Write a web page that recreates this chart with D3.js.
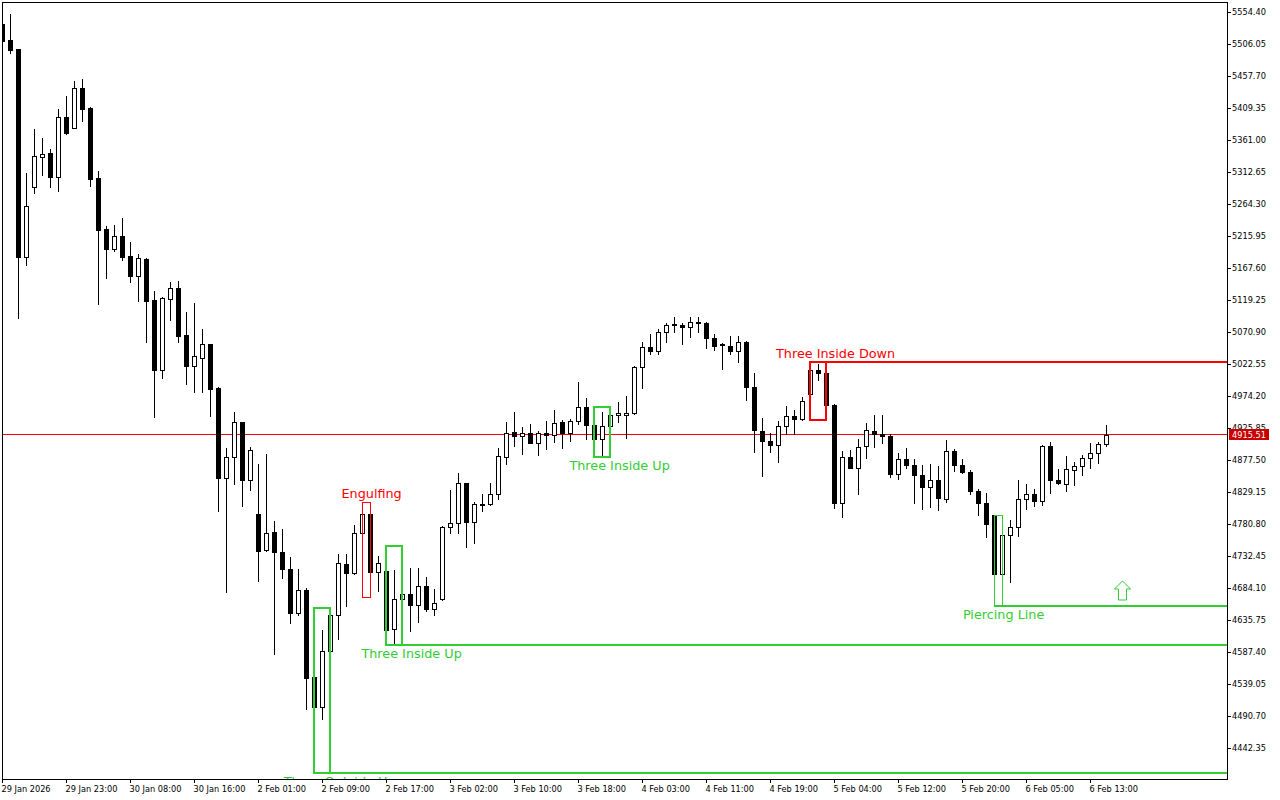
<!DOCTYPE html>
<html>
<head>
<meta charset="utf-8">
<script src="https://cdn.jsdelivr.net/npm/d3@7"></script>
<style>
	body { margin: 0; background: #fff; }
	svg { display: block; }
	text { font-family: "DejaVu Sans", sans-serif; }
</style>
</head>
<body>
<script>
// hourly candles, index 0 = first bar on the left
var opens = [
	5536.3, 5512.1, 5498.5, 5184.2, 5290.0, 5335.3, 5341.4, 5305.1, 5395.8, 5379.1,
	5439.6, 5409.4, 5303.6, 5226.5, 5196.3, 5216.0, 5185.7, 5155.5, 5181.2, 5119.3,
	5013.5, 5120.8, 5137.4, 5066.4, 5019.5, 5031.6, 5052.8, 4986.3, 4850.3, 4882.0,
	4934.9, 4847.3, 4795.9, 4741.5, 4768.7, 4738.5, 4712.8, 4646.4, 4681.1, 4549.7,
	4504.3, 4588.9, 4643.3, 4720.4, 4706.8, 4767.2, 4795.9, 4708.3, 4709.8, 4622.2,
	4667.5, 4675.1, 4658.4, 4687.1, 4652.4, 4667.5, 4776.3, 4782.3, 4842.8, 4783.8,
	4809.5, 4811.0, 4826.2, 4882.0, 4919.8, 4913.8, 4918.3, 4903.2, 4918.3, 4915.3,
	4934.9, 4918.3, 4936.4, 4957.6, 4930.4, 4909.3, 4928.9, 4945.5, 4945.5, 4948.5,
	5018.0, 5048.2, 5042.2, 5070.9, 5081.5, 5081.5, 5078.5, 5086.0, 5084.5, 5061.9,
	5052.8, 5049.8, 5042.2, 5055.8, 4987.8, 4921.3, 4906.2, 4900.2, 4928.9, 4944.0,
	4939.5, 4977.2, 5013.5, 5009.0, 4960.6, 4812.5, 4882.0, 4865.4, 4898.7, 4921.3,
	4916.8, 4913.8, 4856.4, 4879.0, 4870.0, 4854.9, 4836.7, 4847.3, 4818.6, 4891.1,
	4870.0, 4859.4, 4830.7, 4812.5, 4794.4, 4705.3, 4764.2, 4776.3, 4818.6, 4826.2,
	4815.6, 4898.7, 4847.3, 4841.3, 4862.4, 4868.5, 4880.5, 4888.1, 4901.7
];
var highs = [
	5542.3, 5551.4, 5498.5, 5311.1, 5377.6, 5364.0, 5347.4, 5407.8, 5427.5, 5450.2,
	5453.2, 5410.9, 5314.2, 5231.1, 5232.6, 5243.2, 5206.9, 5188.8, 5182.7, 5132.9,
	5123.8, 5146.5, 5148.0, 5101.1, 5114.7, 5075.4, 5052.8, 4987.8, 4895.7, 4950.0,
	4934.9, 4897.2, 4871.5, 4886.6, 4785.4, 4773.3, 4731.0, 4712.8, 4684.1, 4573.8,
	4620.7, 4653.9, 4735.5, 4735.5, 4779.3, 4812.5, 4814.1, 4732.5, 4747.6, 4711.3,
	4715.9, 4714.3, 4714.3, 4700.7, 4682.6, 4777.8, 4832.2, 4857.9, 4842.8, 4814.1,
	4826.2, 4842.8, 4895.7, 4934.9, 4950.0, 4927.4, 4931.9, 4921.3, 4936.4, 4953.1,
	4937.9, 4939.5, 4995.4, 4971.2, 4956.1, 4950.0, 4957.6, 4965.2, 4974.2, 5019.5,
	5055.8, 5067.9, 5075.4, 5084.5, 5093.6, 5084.5, 5093.6, 5093.6, 5086.0, 5067.9,
	5054.3, 5064.9, 5064.9, 5057.3, 5009.0, 4941.0, 4918.3, 4936.4, 4959.1, 4953.1,
	4972.7, 5025.6, 5022.6, 5025.6, 4962.1, 4891.1, 4892.6, 4909.3, 4933.4, 4945.5,
	4945.5, 4916.8, 4888.1, 4895.7, 4879.0, 4870.0, 4871.5, 4868.5, 4907.7, 4894.1,
	4879.0, 4862.4, 4833.7, 4827.7, 4794.4, 4786.9, 4786.9, 4847.3, 4841.3, 4833.7,
	4900.2, 4904.7, 4863.9, 4883.6, 4874.5, 4885.1, 4903.2, 4904.7, 4930.4
];
var lows = [
	5509.1, 5492.4, 5092.1, 5172.1, 5280.9, 5308.1, 5290.0, 5284.0, 5370.1, 5379.1,
	5389.7, 5291.5, 5113.2, 5152.5, 5193.3, 5179.7, 5146.5, 5117.8, 5055.8, 4942.5,
	5001.4, 5089.0, 5055.8, 4992.3, 4980.3, 4980.3, 4944.0, 4800.5, 4678.1, 4841.3,
	4808.0, 4832.2, 4694.7, 4740.0, 4584.4, 4699.2, 4631.2, 4643.3, 4501.3, 4404.6,
	4486.2, 4560.2, 4607.1, 4656.9, 4705.3, 4749.1, 4670.5, 4679.6, 4620.7, 4598.0,
	4656.9, 4619.2, 4632.8, 4649.4, 4643.3, 4666.0, 4767.2, 4767.2, 4746.1, 4752.1,
	4800.5, 4809.5, 4818.6, 4871.5, 4898.7, 4886.6, 4903.2, 4885.1, 4894.1, 4904.7,
	4895.7, 4906.2, 4931.9, 4909.3, 4883.6, 4882.0, 4903.2, 4934.9, 4910.8, 4947.0,
	4986.3, 5037.7, 5037.7, 5055.8, 5070.9, 5052.8, 5063.4, 5070.9, 5046.7, 5043.7,
	5015.0, 5037.7, 5025.6, 4968.2, 4889.6, 4853.3, 4889.6, 4874.5, 4916.8, 4916.8,
	4937.9, 4963.6, 4998.4, 4937.9, 4805.0, 4791.4, 4865.4, 4826.2, 4880.5, 4897.2,
	4903.2, 4851.8, 4848.8, 4865.4, 4812.5, 4803.5, 4806.5, 4802.0, 4814.1, 4860.9,
	4857.9, 4826.2, 4794.4, 4761.2, 4696.2, 4656.9, 4693.2, 4762.7, 4803.5, 4808.0,
	4809.5, 4827.7, 4841.3, 4830.7, 4839.7, 4854.9, 4865.4, 4873.0, 4898.7
];
var closes = [
	5510.6, 5497.0, 5184.2, 5261.3, 5336.8, 5339.9, 5305.1, 5395.8, 5371.6, 5439.6,
	5407.8, 5302.1, 5225.0, 5196.3, 5216.0, 5184.2, 5155.5, 5182.7, 5117.8, 5013.5,
	5122.3, 5137.4, 5064.9, 5019.5, 5034.7, 5052.8, 4984.8, 4850.3, 4882.0, 4934.9,
	4847.3, 4892.6, 4740.0, 4767.2, 4738.5, 4712.8, 4646.4, 4681.1, 4548.1, 4504.3,
	4588.9, 4643.3, 4721.9, 4706.8, 4767.2, 4795.9, 4708.3, 4721.9, 4620.7, 4667.5,
	4675.1, 4658.4, 4687.1, 4652.4, 4661.5, 4776.3, 4782.3, 4842.8, 4783.8, 4811.0,
	4811.0, 4826.2, 4883.6, 4918.3, 4913.8, 4918.3, 4903.2, 4918.3, 4915.3, 4933.4,
	4918.3, 4936.4, 4957.6, 4930.4, 4909.3, 4928.9, 4945.5, 4948.5, 4948.5, 5018.0,
	5048.2, 5042.2, 5070.9, 5081.5, 5083.0, 5078.5, 5086.0, 5084.5, 5061.9, 5049.8,
	5051.3, 5042.2, 5055.8, 4987.8, 4922.8, 4906.2, 4900.2, 4928.9, 4944.0, 4939.5,
	4966.7, 5013.5, 5009.0, 4960.6, 4812.5, 4882.0, 4865.4, 4897.2, 4922.8, 4916.8,
	4913.8, 4856.4, 4879.0, 4870.0, 4854.9, 4836.7, 4847.3, 4820.1, 4891.1, 4870.0,
	4859.4, 4830.7, 4812.5, 4780.8, 4705.3, 4764.2, 4776.3, 4818.6, 4826.2, 4815.6,
	4898.7, 4847.3, 4842.8, 4863.9, 4868.5, 4880.5, 4888.1, 4901.7, 4915.51
];

var bid = 4915.51;

var priceTicks = [5554.40, 5506.05, 5457.70, 5409.35, 5361.00, 5312.65, 5264.30, 5215.95,
	5167.60, 5119.25, 5070.90, 5022.55, 4974.20, 4925.85, 4877.50, 4829.15, 4780.80,
	4732.45, 4684.10, 4635.75, 4587.40, 4539.05, 4490.70, 4442.35];

var timeTickIndex = [0, 8, 16, 24, 32, 40, 48, 56, 64, 72, 80, 88, 96, 104, 112, 120, 128, 136];
var timeTickLabels = ['29 Jan 2026', '29 Jan 23:00', '30 Jan 08:00', '30 Jan 16:00', '2 Feb 01:00',
	'2 Feb 09:00', '2 Feb 17:00', '3 Feb 02:00', '3 Feb 10:00', '3 Feb 18:00', '4 Feb 03:00',
	'4 Feb 11:00', '4 Feb 19:00', '5 Feb 04:00', '5 Feb 12:00', '5 Feb 20:00', '6 Feb 05:00', '6 Feb 13:00'];

// candlestick patterns found on the chart
var patternNames  = ['Three Outside Up', 'Engulfing', 'Three Inside Up', 'Three Inside Up', 'Three Inside Down', 'Piercing Line'];
var patternStart  = [39, 45, 48, 74, 101, 124];
var patternEnd    = [41, 46, 50, 76, 103, 125];
var patternBull   = [true, false, true, true, false, true];
var patternExtend = [true, false, true, false, true, true];
var signalIndex = 140; // buy arrow bar

var green = '#32cd32';
var red = '#ff0000';

var plot = { left: 2, top: 2, right: 1227, bottom: 779 };

var svg = d3.select('body').append('svg')
	.attr('width', 1280)
	.attr('height', 800);

var x = d3.scaleLinear().domain([0, 1]).range([2, 10]); // 8px per bar
var y = d3.scaleLinear().domain([4442.35, 5554.40]).range([748, 12]);
var py = function(v) { return Math.round(y(v)); };

svg.append('defs').append('clipPath').attr('id', 'clip')
	.append('rect')
	.attr('x', plot.left).attr('y', plot.top)
	.attr('width', plot.right - plot.left).attr('height', plot.bottom - plot.top);

var g = svg.append('g').attr('clip-path', 'url(#clip)');

// bid line
g.append('line')
	.attr('x1', plot.left).attr('x2', plot.right)
	.attr('y1', py(bid) - 0.5).attr('y2', py(bid) - 0.5)
	.attr('stroke', '#ff0000');

// candles
var idx = d3.range(opens.length);
var candle = g.append('g').selectAll('g').data(idx).enter().append('g');

candle.append('line')
	.attr('x1', function(i) { return x(i) + 0.5; })
	.attr('x2', function(i) { return x(i) + 0.5; })
	.attr('y1', function(i) { return py(highs[i]); })
	.attr('y2', function(i) { return py(lows[i]) + 1; })
	.attr('stroke', '#000');

candle.append('rect')
	.attr('x', function(i) { return closes[i] >= opens[i] ? x(i) - 1.5 : x(i) - 2; })
	.attr('width', function(i) { return closes[i] >= opens[i] ? 4 : 5; })
	.attr('y', function(i) {
		return closes[i] >= opens[i] ? py(closes[i]) + 0.5 : py(opens[i]);
	})
	.attr('height', function(i) {
		if (closes[i] >= opens[i]) return py(opens[i]) - py(closes[i]);
		return Math.max(1, py(closes[i]) - py(opens[i]) + 1);
	})
	.attr('fill', function(i) { return closes[i] >= opens[i] ? '#fff' : '#000'; })
	.attr('stroke', function(i) { return closes[i] >= opens[i] ? '#000' : 'none'; });

// pattern boxes, lines and labels
var pat = g.append('g');
patternNames.forEach(function(name, k) {
	var s = patternStart[k], e = patternEnd[k];
	var hi = d3.max(highs.slice(s, e + 1));
	var lo = d3.min(lows.slice(s, e + 1));
	var col = patternBull[k] ? green : red;
	var w = (e - s === 1) ? 1 : 2;
	var off = w === 1 ? 0.5 : 0;
	var x0 = x(s) + 0.5, x1 = x(e) + 0.5;
	var top = py(hi), bot = py(lo);

	pat.append('rect')
		.attr('x', Math.floor(x0) + off).attr('y', top + off)
		.attr('width', Math.floor(x1) - Math.floor(x0)).attr('height', bot - top)
		.attr('fill', 'none').attr('stroke', col).attr('stroke-width', w);

	if (patternExtend[k]) {
		var ly = patternBull[k] ? bot : top;
		pat.append('line')
			.attr('x1', Math.floor(x0)).attr('x2', plot.right)
			.attr('y1', ly).attr('y2', ly)
			.attr('stroke', col).attr('stroke-width', 2);
	}

	pat.append('text')
		.attr('x', x(e + (e - s === 1 ? 0.2 : 1.2)))
		.attr('y', patternBull[k] ? bot + 12.5 : top - 4)
		.attr('text-anchor', 'middle')
		.attr('font-size', '12.8px')
		.attr('fill', col)
		.text(name);
});

// buy signal arrow above the last bullish line
var ax = x(signalIndex) + 0.5;
var ab = py(d3.min(lows.slice(patternStart[5], patternEnd[5] + 1))) - 6;
pat.append('path')
	.attr('d', d3.line()([
		[ax, ab - 19], [ax + 8, ab - 11], [ax + 4, ab - 11], [ax + 4, ab],
		[ax - 4, ab], [ax - 4, ab - 11], [ax - 8, ab - 11]
	]) + 'Z')
	.attr('fill', '#fff')
	.attr('stroke', green);

// frame
svg.append('rect')
	.attr('x', plot.left + 0.5).attr('y', plot.top + 0.5)
	.attr('width', plot.right - plot.left).attr('height', plot.bottom - plot.top)
	.attr('fill', 'none').attr('stroke', '#000');

// price axis
var yAxis = svg.append('g')
	.attr('transform', 'translate(' + plot.right + ',0)')
	.call(d3.axisRight(y).tickValues(priceTicks).tickSize(4).tickSizeOuter(0).tickPadding(1)
		.tickFormat(d3.format('.2f')));
yAxis.select('.domain').remove();
yAxis.selectAll('text').attr('font-family', '"DejaVu Sans", sans-serif').attr('font-size', '8.2px').attr('fill', '#000');

// time axis
var xAxis = svg.append('g')
	.attr('transform', 'translate(0,' + plot.bottom + ')')
	.call(d3.axisBottom(x).tickValues(timeTickIndex).tickSize(4).tickSizeOuter(0)
		.tickFormat(function(d, i) { return timeTickLabels[i]; }));
xAxis.select('.domain').remove();
xAxis.selectAll('text')
	.attr('text-anchor', 'start').attr('x', -1)
	.attr('font-family', '"DejaVu Sans", sans-serif').attr('font-size', '8.2px').attr('fill', '#000');

// bid price label
var bidY = py(bid) - 1;
svg.append('rect')
	.attr('x', plot.right + 2).attr('y', bidY - 5)
	.attr('width', 40).attr('height', 11)
	.attr('fill', '#c80000');
svg.append('text')
	.attr('x', plot.right + 5).attr('y', bidY + 3.5)
	.attr('font-size', '8.2px')
	.attr('fill', '#fff')
	.text(d3.format('.2f')(bid));
</script>
</body>
</html>
